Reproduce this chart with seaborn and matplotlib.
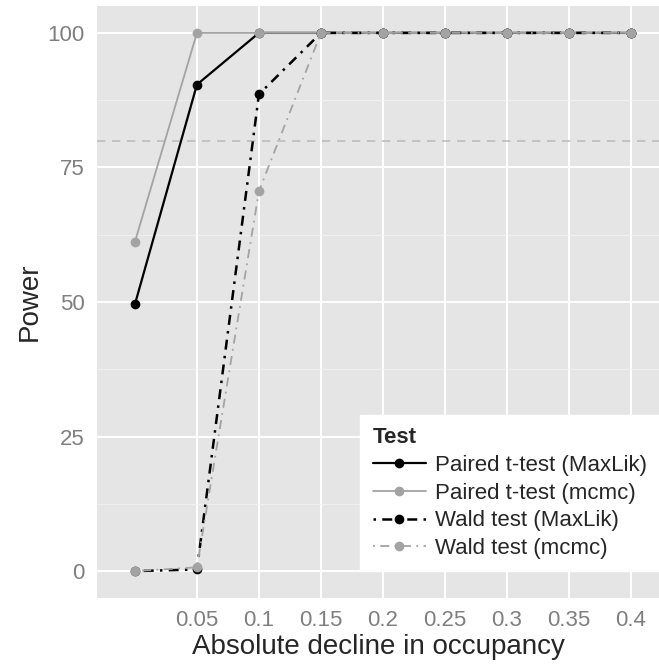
import numpy as np
import pandas as pd
import matplotlib
matplotlib.use("Agg")
import matplotlib.pyplot as plt
import seaborn as sns

decline = [0.0, 0.05, 0.1, 0.15, 0.2, 0.25, 0.3, 0.35, 0.4]
tests = ["Paired t-test (MaxLik)", "Paired t-test (mcmc)",
         "Wald test (MaxLik)", "Wald test (mcmc)"]
power_paired_maxlik = [49.6, 90.4, 100, 100, 100, 100, 100, 100, 100]
power_paired_mcmc = [61.2, 100, 100, 100, 100, 100, 100, 100, 100]
power_wald_maxlik = [0.0, 0.3, 88.6, 100, 100, 100, 100, 100, 100]
power_wald_mcmc = [0.0, 0.7, 70.6, 100, 100, 100, 100, 100, 100]
x_ticks = [0.05, 0.1, 0.15, 0.2, 0.25, 0.3, 0.35, 0.4]
y_ticks = [0, 25, 50, 75, 100]
target_power = 80

series = [power_paired_maxlik, power_paired_mcmc, power_wald_maxlik, power_wald_mcmc]
df = pd.DataFrame({
    "decline": decline * len(tests),
    "power": sum(series, []),
    "Test": np.repeat(tests, len(decline)),
})

sns.set_theme(style="darkgrid", rc={
    "axes.facecolor": "#E5E5E5",
    "grid.color": "white",
    "axes.edgecolor": "none",
})
plt.rcParams["font.family"] = ["Liberation Sans", "DejaVu Sans"]

fig = plt.figure(figsize=(6.59, 6.66), dpi=100)
ax = fig.add_axes([97 / 659, 68 / 666, 562 / 659, 592 / 666])

black, grey = "#000000", "#A3A3A3"
palette = {tests[0]: black, tests[1]: grey, tests[2]: black, tests[3]: grey}
dashes = {tests[0]: "", tests[1]: "", tests[2]: (1, 2.5, 4, 2.5), tests[3]: (1, 3, 5, 3)}
sizes = {tests[0]: 1.6, tests[1]: 1.3, tests[2]: 1.8, tests[3]: 1.3}

ax.axhline(target_power, color="#BDBDBD", lw=1.2, ls=(0, (5, 4)), zorder=1)

sns.lineplot(data=df, x="decline", y="power", hue="Test", style="Test",
             size="Test", hue_order=tests, style_order=tests, size_order=tests,
             palette=palette, dashes=dashes, sizes=sizes,
             markers={t: "o" for t in tests}, markersize=7, markeredgewidth=0,
             ax=ax, zorder=3)
for line in ax.lines[1:]:
    line.set_markeredgecolor(line.get_color())

ax.set_xlim(-0.0306, 0.4226)
ax.set_ylim(-5, 105)
ax.set_xticks(x_ticks)
ax.set_xticklabels([f"{v:g}" for v in x_ticks])
ax.set_yticks(y_ticks)
ax.set_yticks([12.5, 37.5, 62.5, 87.5], minor=True)
ax.grid(which="major", lw=1.4)
ax.grid(which="minor", axis="y", lw=0.6, color="#F2F2F2")
ax.grid(which="minor", axis="x", visible=False)
ax.tick_params(axis="both", which="major", length=5, width=0.8, color="#7F7F7F",
               labelsize=16, labelcolor="#7F7F7F", pad=4)
ax.tick_params(which="minor", length=0)
ax.set_xlabel("Absolute decline in occupancy", fontsize=20, labelpad=2)
ax.set_ylabel("Power", fontsize=20, labelpad=3)

handles, labels = ax.get_legend_handles_labels()
for h in handles:
    h.set_markeredgecolor(h.get_color())
leg = ax.legend(handles[-4:], labels[-4:], title="Test", loc="lower right",
                bbox_to_anchor=(1.0, 0.045), fontsize=16, frameon=True,
                facecolor="white", edgecolor="white", framealpha=1,
                handlelength=2.4, handletextpad=0.4, borderpad=0.55,
                labelspacing=0.3, alignment="left", fancybox=False,
                borderaxespad=0.0)
leg.get_title().set_fontweight("bold")
leg.get_title().set_fontsize(16)

fig.savefig("out.png", dpi=100)
